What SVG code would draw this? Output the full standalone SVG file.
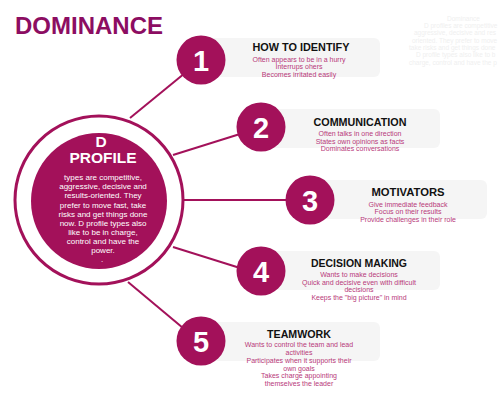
<svg xmlns="http://www.w3.org/2000/svg" width="500" height="400" viewBox="0 0 500 400">
<defs>
<style>
.ttl{font-family:"Liberation Sans",Arial,sans-serif;font-weight:bold;font-size:10px;fill:#111;text-anchor:middle}
.body{font-family:"Liberation Sans",Arial,sans-serif;font-size:7px;fill:#B8397A;text-anchor:middle}
.box{fill:#F5F5F5}
.num{fill:#A3115A}
.digit{font-family:"Liberation Sans",Arial,sans-serif;font-weight:bold;font-size:29px;fill:#fff;text-anchor:middle}
.conn{stroke:#A3115A;stroke-width:2;fill:none}
.ctext{font-family:"Liberation Sans",Arial,sans-serif;font-size:8px;fill:#fff;text-anchor:middle}
.chead{font-family:"Liberation Sans",Arial,sans-serif;font-weight:bold;font-size:15.5px;fill:#fff;text-anchor:middle}
.faint{font-family:"Liberation Sans",Arial,sans-serif;font-size:6.5px;fill:#EFEFEF}
</style>
</defs>
<rect width="500" height="400" fill="#fff"/>
<text x="15" y="34" font-family="'Liberation Sans',Arial,sans-serif" font-weight="bold" font-size="23" fill="#8C0D62" textLength="148" lengthAdjust="spacingAndGlyphs">DOMINANCE</text>
<g id="faint-note">
<text class="faint" x="447" y="21">Dominance</text>
<text class="faint" x="424" y="28">D profiles are competitive</text>
<text class="faint" x="414" y="35">aggressive, decisive and res</text>
<text class="faint" x="412" y="43">oriented. They prefer to move</text>
<text class="faint" x="409" y="50">take risks and get things done</text>
<text class="faint" x="416" y="57">D profile types also like to b</text>
<text class="faint" x="409" y="65">charge, control and have the p</text>
</g>
<g id="connectors">
<line class="conn" x1="130" y1="118" x2="185" y2="73"/>
<line class="conn" x1="173" y1="155" x2="240" y2="134"/>
<line class="conn" x1="183" y1="200" x2="288" y2="200"/>
<line class="conn" x1="173" y1="247" x2="240" y2="268"/>
<line class="conn" x1="128" y1="282" x2="183" y2="328"/>
</g>
<g id="center">
<circle cx="99" cy="200" r="84" fill="#fff" stroke="#A3115A" stroke-width="3"/>
<circle cx="99" cy="201" r="68" fill="#A3115A"/>
<text class="chead" x="101" y="147">D</text>
<text class="chead" x="103" y="163">PROFILE</text>
<text class="ctext" x="103" y="180">types are competitive,</text>
<text class="ctext" x="103" y="189">aggressive, decisive and</text>
<text class="ctext" x="103" y="198">results-oriented. They</text>
<text class="ctext" x="103" y="208">prefer to move fast, take</text>
<text class="ctext" x="103" y="217">risks and get things done</text>
<text class="ctext" x="103" y="226">now. D profile types also</text>
<text class="ctext" x="103" y="235">like to be in charge,</text>
<text class="ctext" x="103" y="244">control and have the</text>
<text class="ctext" x="103" y="253">power.</text>
<text class="ctext" x="102" y="262">.</text>
</g>
<g id="node1">
<rect class="box" x="201" y="38" width="179" height="39" rx="6"/>
<circle class="num" cx="201" cy="60" r="24.5"/>
<text class="digit" x="201" y="70.5">1</text>
<text class="ttl" x="301" y="50.5" textLength="97" lengthAdjust="spacingAndGlyphs">HOW TO IDENTIFY</text>
<text class="body" x="299" y="62">Often appears to be in a hurry</text>
<text class="body" x="299" y="69">Interrups ohers</text>
<text class="body" x="299" y="76.5">Becomes irritated easily</text>
</g>
<g id="node2">
<rect class="box" x="261" y="109" width="179" height="39" rx="6"/>
<circle class="num" cx="261" cy="127" r="24.5"/>
<text class="digit" x="261" y="137.5">2</text>
<text class="ttl" x="360" y="126" textLength="93" lengthAdjust="spacingAndGlyphs">COMMUNICATION</text>
<text class="body" x="360" y="135.5">Often talks in one direction</text>
<text class="body" x="360" y="143.5">States own opinions as facts</text>
<text class="body" x="360" y="151">Dominates conversations</text>
</g>
<g id="node3">
<rect class="box" x="310" y="180" width="177" height="39" rx="6"/>
<circle class="num" cx="310" cy="200" r="24.5"/>
<text class="digit" x="310" y="210.5">3</text>
<text class="ttl" x="408" y="196" textLength="73" lengthAdjust="spacingAndGlyphs">MOTIVATORS</text>
<text class="body" x="408" y="206.5">Give immediate feedback</text>
<text class="body" x="408" y="214">Focus on their results</text>
<text class="body" x="408" y="221.5">Provide challenges in their role</text>
</g>
<g id="node4">
<rect class="box" x="261" y="251" width="179" height="39" rx="6"/>
<circle class="num" cx="261" cy="271" r="24.5"/>
<text class="digit" x="261" y="281.5">4</text>
<text class="ttl" x="359" y="266.5" textLength="96" lengthAdjust="spacingAndGlyphs">DECISION MAKING</text>
<text class="body" x="359" y="276.5">Wants to make decisions</text>
<text class="body" x="359" y="284.5">Quick and decisive even with difficult</text>
<text class="body" x="359" y="292">decisions</text>
<text class="body" x="359" y="300">Keeps the "big picture" in mind</text>
</g>
<g id="node5">
<rect class="box" x="201" y="322" width="179" height="39" rx="6"/>
<circle class="num" cx="201" cy="341" r="24.5"/>
<text class="digit" x="201" y="351.5">5</text>
<text class="ttl" x="299" y="338" textLength="64" lengthAdjust="spacingAndGlyphs">TEAMWORK</text>
<text class="body" x="299" y="347">Wants to control the team and lead</text>
<text class="body" x="299" y="355">activities</text>
<text class="body" x="299" y="363">Participates when it supports their</text>
<text class="body" x="299" y="370.5">own goals</text>
<text class="body" x="299" y="378">Takes charge appointing</text>
<text class="body" x="299" y="385.5">themselves the leader</text>
</g>
</svg>
